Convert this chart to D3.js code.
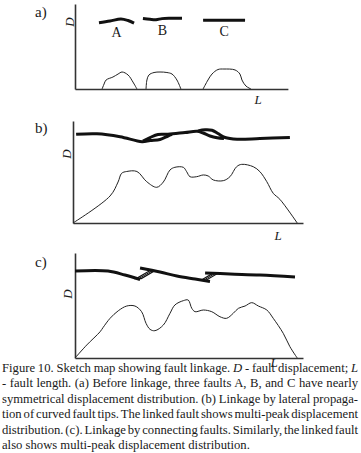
<!DOCTYPE html>
<html>
<head>
<meta charset="utf-8">
<script src="https://cdn.jsdelivr.net/npm/d3@7"></script>
<style>
  body { margin: 0; background: #fff; }
  svg { display: block; background: #fff; }
</style>
</head>
<body>
<svg id="chart" width="361" height="453"></svg>
<script>
// sketch units: L and D both run 0..100 along each panel's axes

// (a) before linkage: three separate faults and their profiles
const aFaultA = [[10.8, 78], [15.8, 80], [20.7, 82.4], [23.9, 80.6], [26.6, 77.6]];
const aFaultB = [[30.6, 82.9], [33.8, 82.0], [36.5, 81.6], [39.2, 82.8], [42.8, 83.2], [48.2, 83.2]];
const aFaultC = [[57.7, 80.8], [67, 81], [76.6, 80.8]];
const aProfileA = [[12.2, 0], [13.1, 5.9], [14.0, 10.6], [17.1, 14.1], [19.4, 17.6], [21.2, 20], [23.9, 16.5], [26.1, 8.2], [27.9, 0]];
const aProfileB = [[32.0, 0], [32.4, 10.6], [33.3, 16.5], [35.6, 19.4], [38.3, 20], [41.4, 19.4], [43.7, 17.6], [45.9, 10.6], [47.7, 0]];
const aProfileC = [[57.7, 0], [59.9, 10.6], [61.7, 17.6], [64.4, 22.9], [67.1, 23.5], [72.1, 22.4], [74.3, 17.6], [75.2, 10.6], [77.0, 3.5], [79.3, 0]];
const faultNames = ['A', 'B', 'C'];

// (b) linkage by lateral propagation of curved tips
const bTrace1 = [[1.4, 87], [10.8, 87.5], [21.2, 84.6], [31.1, 79.7], [34.7, 80.9], [39.2, 81.9], [42.8, 85.3], [44.6, 86.8]];
const bTrace2 = [[31.5, 80.4], [34.7, 83.8], [38.3, 86.8], [42.8, 87], [50.5, 88.7], [55.9, 89.9], [58.6, 88.2], [61.7, 85.3], [64.9, 83.5], [68, 82.8]];
const bTrace3 = [[56.3, 90.2], [59.5, 91.4], [62.6, 90.9], [65.3, 87.7], [68.5, 83.8], [73.9, 82.1], [84.2, 82.8], [97.7, 83.8]];
const bProfile = [[0, 0], [16.7, 26.5], [20.3, 40.2], [21.9, 48.7], [24.2, 50.5], [28.8, 50.5], [33.2, 40.5], [37.7, 35],
  [40.7, 40.2], [43.7, 52], [45.9, 54.6], [49.7, 54.6], [51.2, 50.3], [52.7, 45.4], [55.7, 45.4], [58.7, 47.1], [60.9, 46.1],
  [63.2, 42.2], [67.7, 41.5], [70.7, 45.4], [73.7, 55.2], [76.0, 57.5], [81.2, 55.2], [84.2, 50.3], [87.3, 40.5], [90.2, 29.1],
  [93.2, 23.2], [101, 0]];

// (c) linkage by connecting faults
const cTrace1 = [[0, 82.9], [14.9, 82.9], [22.5, 79], [29.3, 74.8]];
const cTrace2 = [[29.3, 85.7], [38.3, 81.9], [45.9, 78.1], [54.1, 75.2], [60.8, 72.9]];
const cTrace3 = [[58.6, 81], [69.8, 80], [83.3, 79], [99.1, 77.1]];
const cLinks = [[[27.6, 75.6], [33.6, 83]], [[56.6, 73.8], [62.2, 80.8]]];
const cProfile = [[0, 0], [5.3, 12.4], [11.3, 25], [12.7, 29.2], [15.8, 37.8], [19.5, 45], [23.3, 49.5], [27, 49.5], [30, 44.1],
  [32, 33], [33.8, 27.3], [36, 26], [39.8, 31.4], [42.8, 42.6], [45, 50.5], [48.8, 54.6], [51, 55.2], [52.6, 47.3], [54.1, 44.1],
  [57.8, 45.7], [61.6, 44.1], [65.3, 39.3], [68.3, 37.8], [71.3, 42.6], [73.6, 47.3], [76.6, 49.5], [79.6, 52.7], [82.6, 49.5],
  [86.4, 45.7], [89.3, 37.8], [93.8, 23.5], [96.8, 10.8], [100.1, 0]];

const captionLines = [
  [['Figure 10. Sketch map showing fault linkage. '], ['D', true], [' - fault displacement; '], ['L', true]],
  [['- fault length. (a) Before linkage, three faults A, B, and C have nearly']],
  [['symmetrical displacement distribution. (b) Linkage by lateral propaga-']],
  [['tion of curved fault tips. The linked fault shows multi-peak displacement']],
  [['distribution. (c). Linkage by connecting faults. Similarly, the linked fault']],
  [['also shows multi-peak displacement distribution.']]
];

const SERIF = '"Liberation Serif", "Times New Roman", Tinos, "DejaVu Serif", serif';

const svg = d3.select('#chart')
  .style('font-family', SERIF);

const panels = [
  { tag: 'a)', x0: 75, base: 89, top: 4, axisEnd: 95.9, tagY: 17, dPos: [69, 22], lPos: [258, 104],
    faults: [aFaultA, aFaultB, aFaultC], profiles: [aProfileA, aProfileB, aProfileC], names: faultNames },
  { tag: 'b)', x0: 73, base: 223, top: 121, axisEnd: 103.6, tagY: 133, dPos: [66, 154], lPos: [278, 240],
    faults: [bTrace1, bTrace2, bTrace3], profiles: [bProfile] },
  { tag: 'c)', x0: 75, base: 358, top: 253, axisEnd: 102.7, tagY: 267, dPos: [67, 294], lPos: [274, 367],
    faults: [cTrace1, cTrace2, cTrace3], profiles: [cProfile], links: cLinks }
];

const addText = (sel) => sel.append('text')
  .style('font-family', SERIF)
  .attr('fill', '#1a1a1a');

const drawPanel = (p) => {
  const x = d3.scaleLinear().domain([0, 100]).range([p.x0, p.x0 + 222]);
  const y = d3.scaleLinear().domain([0, 100]).range([p.base, p.top]);
  const g = svg.append('g');

  const line = d3.line()
    .x(d => x(d[0]))
    .y(d => y(d[1]))
    .curve(d3.curveCatmullRom.alpha(0.5));

  // axes, no ticks
  const xAxisScale = x.copy().domain([0, p.axisEnd]).range([x(0), x(p.axisEnd)]);
  g.append('g')
    .attr('transform', 'translate(0,' + p.base + ')')
    .call(d3.axisBottom(xAxisScale).ticks(0).tickSize(0))
    .select('.domain').attr('stroke', '#333').attr('stroke-width', 1.6);
  g.append('g')
    .attr('transform', 'translate(' + p.x0 + ',0)')
    .call(d3.axisLeft(y).ticks(0).tickSize(0))
    .select('.domain').attr('stroke', '#333').attr('stroke-width', 1.6);

  g.selectAll('path.profile')
    .data(p.profiles)
    .join('path')
    .classed('profile', true)
    .attr('d', line)
    .attr('fill', 'none')
    .attr('stroke', '#222')
    .attr('stroke-width', 1);

  // relay links between fault tips: small double-walled ramps
  (p.links || []).forEach(([a, b]) => {
    const x1 = x(a[0]), y1 = y(a[1]), x2 = x(b[0]), y2 = y(b[1]);
    const w = 5;
    g.append('path')
      .attr('d', 'M' + x1 + ',' + y1 + 'L' + x2 + ',' + y2 + 'L' + (x2 + w) + ',' + y2 + 'L' + (x1 + w) + ',' + y1 + 'Z')
      .attr('fill', '#fff')
      .attr('stroke', '#111')
      .attr('stroke-width', 1.2);
    g.append('path')
      .attr('d', 'M' + (x1 + w / 2) + ',' + y1 + 'L' + (x2 + w / 2) + ',' + y2)
      .attr('stroke', '#111')
      .attr('stroke-width', 1);
  });

  g.selectAll('path.fault')
    .data(p.faults)
    .join('path')
    .classed('fault', true)
    .attr('d', line)
    .attr('fill', 'none')
    .attr('stroke', '#111')
    .attr('stroke-width', 3)
    .attr('stroke-linejoin', 'round');

  if (p.names) {
    p.faults.forEach((d, i) => {
      addText(g)
        .attr('x', (x(d[0][0]) + x(d[d.length - 1][0])) / 2)
        .attr('y', y(d3.mean(d, v => v[1])) + 16)
        .attr('text-anchor', 'middle')
        .attr('font-size', 14)
        .text(p.names[i]);
    });
  }

  addText(g)
    .attr('x', 35)
    .attr('y', p.tagY)
    .attr('font-size', 15)
    .text(p.tag);

  addText(g)
    .attr('transform', 'translate(' + p.dPos[0] + ',' + p.dPos[1] + ') rotate(-90)')
    .attr('text-anchor', 'middle')
    .attr('dy', '0.35em')
    .attr('font-size', 13)
    .attr('font-style', 'italic')
    .text('D');

  addText(g)
    .attr('x', p.lPos[0])
    .attr('y', p.lPos[1])
    .attr('text-anchor', 'middle')
    .attr('font-size', 13)
    .attr('font-style', 'italic')
    .text('L');
};

// caption first, so the panel (c) L label sits on top of it
const caption = svg.append('g');
const rows = captionLines.map((parts, i) => {
  const t = addText(caption)
    .attr('x', 2)
    .attr('y', 372 + i * 15.4)
    .attr('font-size', 13);
  parts.forEach(([s, it]) => {
    t.append('tspan').attr('font-style', it ? 'italic' : null).text(s);
  });
  return t;
});

// size the caption so the short last line is as wide as in the figure,
// then justify the full lines with word spacing
const last = rows[rows.length - 1];
const fs = 13 * 248 / last.node().getComputedTextLength();
rows.forEach((t, i) => {
  t.attr('font-size', fs);
  if (i < rows.length - 1) {
    const full = captionLines[i].map(d => d[0]).join('');
    const spaces = full.split(' ').length - 1;
    const extra = (356 - t.node().getComputedTextLength()) / spaces;
    t.attr('word-spacing', extra);
  }
});

panels.forEach(drawPanel);
</script>
</body>
</html>
